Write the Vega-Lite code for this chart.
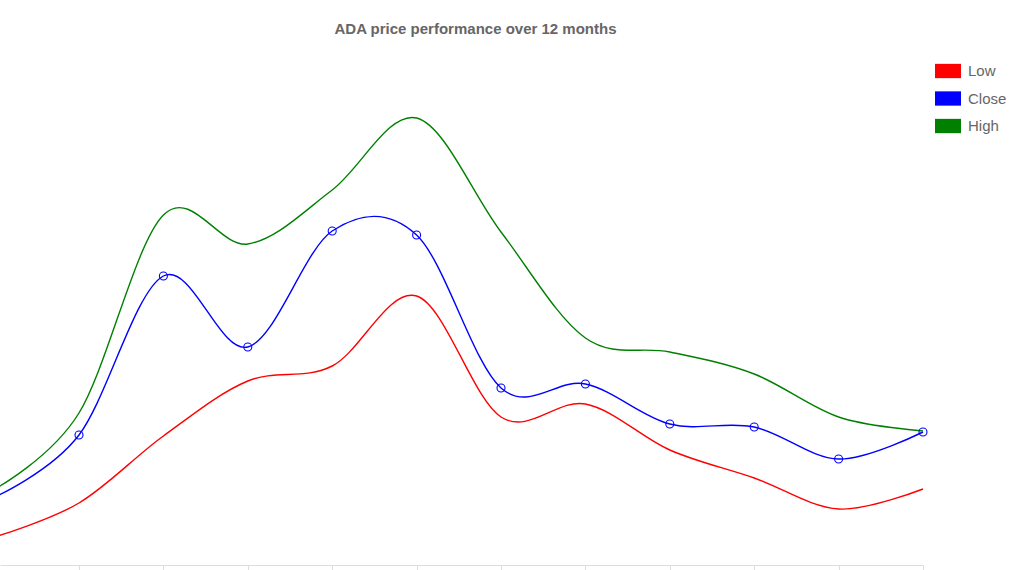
{
  "$schema": "https://vega.github.io/schema/vega-lite/v6.json",
  "width": 923,
  "height": 565,
  "autosize": {"type": "none"},
  "padding": {"left": 0, "top": 0, "right": 93, "bottom": 5},
  "background": "white",
  "title": {"text": "ADA price performance over 12 months", "fontSize": 15, "fontWeight": "bold", "color": "#666666", "font": "Liberation Sans", "anchor": "middle", "offset": -37, "dx": 14},
  "data": {"values": [
    {"month": 0, "series": "Low", "price": 0.278},
    {"month": 1, "series": "Low", "price": 0.312},
    {"month": 2, "series": "Low", "price": 0.379},
    {"month": 3, "series": "Low", "price": 0.434},
    {"month": 4, "series": "Low", "price": 0.449},
    {"month": 5, "series": "Low", "price": 0.519},
    {"month": 6, "series": "Low", "price": 0.398},
    {"month": 7, "series": "Low", "price": 0.411},
    {"month": 8, "series": "Low", "price": 0.365},
    {"month": 9, "series": "Low", "price": 0.337},
    {"month": 10, "series": "Low", "price": 0.306},
    {"month": 11, "series": "Low", "price": 0.326},
    {"month": 0, "series": "Close", "price": 0.318},
    {"month": 1, "series": "Close", "price": 0.380},
    {"month": 2, "series": "Close", "price": 0.539},
    {"month": 3, "series": "Close", "price": 0.468},
    {"month": 4, "series": "Close", "price": 0.584},
    {"month": 5, "series": "Close", "price": 0.580},
    {"month": 6, "series": "Close", "price": 0.427},
    {"month": 7, "series": "Close", "price": 0.431},
    {"month": 8, "series": "Close", "price": 0.391},
    {"month": 9, "series": "Close", "price": 0.388},
    {"month": 10, "series": "Close", "price": 0.356},
    {"month": 11, "series": "Close", "price": 0.383},
    {"month": 0, "series": "High", "price": 0.326},
    {"month": 1, "series": "High", "price": 0.402},
    {"month": 2, "series": "High", "price": 0.600},
    {"month": 3, "series": "High", "price": 0.571},
    {"month": 4, "series": "High", "price": 0.625},
    {"month": 5, "series": "High", "price": 0.697},
    {"month": 6, "series": "High", "price": 0.583},
    {"month": 7, "series": "High", "price": 0.477},
    {"month": 8, "series": "High", "price": 0.463},
    {"month": 9, "series": "High", "price": 0.441},
    {"month": 10, "series": "High", "price": 0.398},
    {"month": 11, "series": "High", "price": 0.384}
  ]},
  "encoding": {
    "x": {"field": "month", "type": "quantitative",
      "scale": {"domain": [0.064, 11], "nice": false, "zero": false},
      "axis": {"values": [1, 2, 3, 4, 5, 6, 7, 8, 9, 10, 11], "labels": false, "title": null, "grid": false, "domainColor": "#dddddd", "tickColor": "#dddddd", "tickSize": 6, "domainWidth": 1, "tickWidth": 1}},
    "y": {"field": "price", "type": "quantitative",
      "scale": {"domain": [0.25, 0.815], "nice": false, "zero": false},
      "axis": null},
    "color": {"field": "series", "type": "nominal",
      "scale": {"domain": ["Low", "Close", "High"], "range": ["#ff0000", "#0000ff", "#008000"]},
      "legend": {"orient": "none", "legendX": 935, "legendY": 58, "title": null, "padding": 0,
        "symbolType": "M-1,-0.55H1V0.55H-1Z", "symbolSize": 676, "symbolStrokeWidth": 0,
        "labelFontSize": 15, "labelColor": "#666666", "labelFont": "Liberation Sans", "labelOffset": 7, "rowPadding": 6.5,
        "encode": {"symbols": {"update": {"fill": {"scale": "color", "field": "value"}, "fillOpacity": {"value": 1}, "strokeWidth": {"value": 0}}}}}}
  },
  "layer": [
    {"mark": {"type": "line", "interpolate": "cardinal", "strokeWidth": 1.4}},
    {"transform": [{"filter": "datum.series === 'Close'"}],
     "mark": {"type": "point", "shape": "circle", "filled": false, "size": 64, "strokeWidth": 1.1, "opacity": 1}}
  ],
  "config": {"view": {"stroke": null}}
}
